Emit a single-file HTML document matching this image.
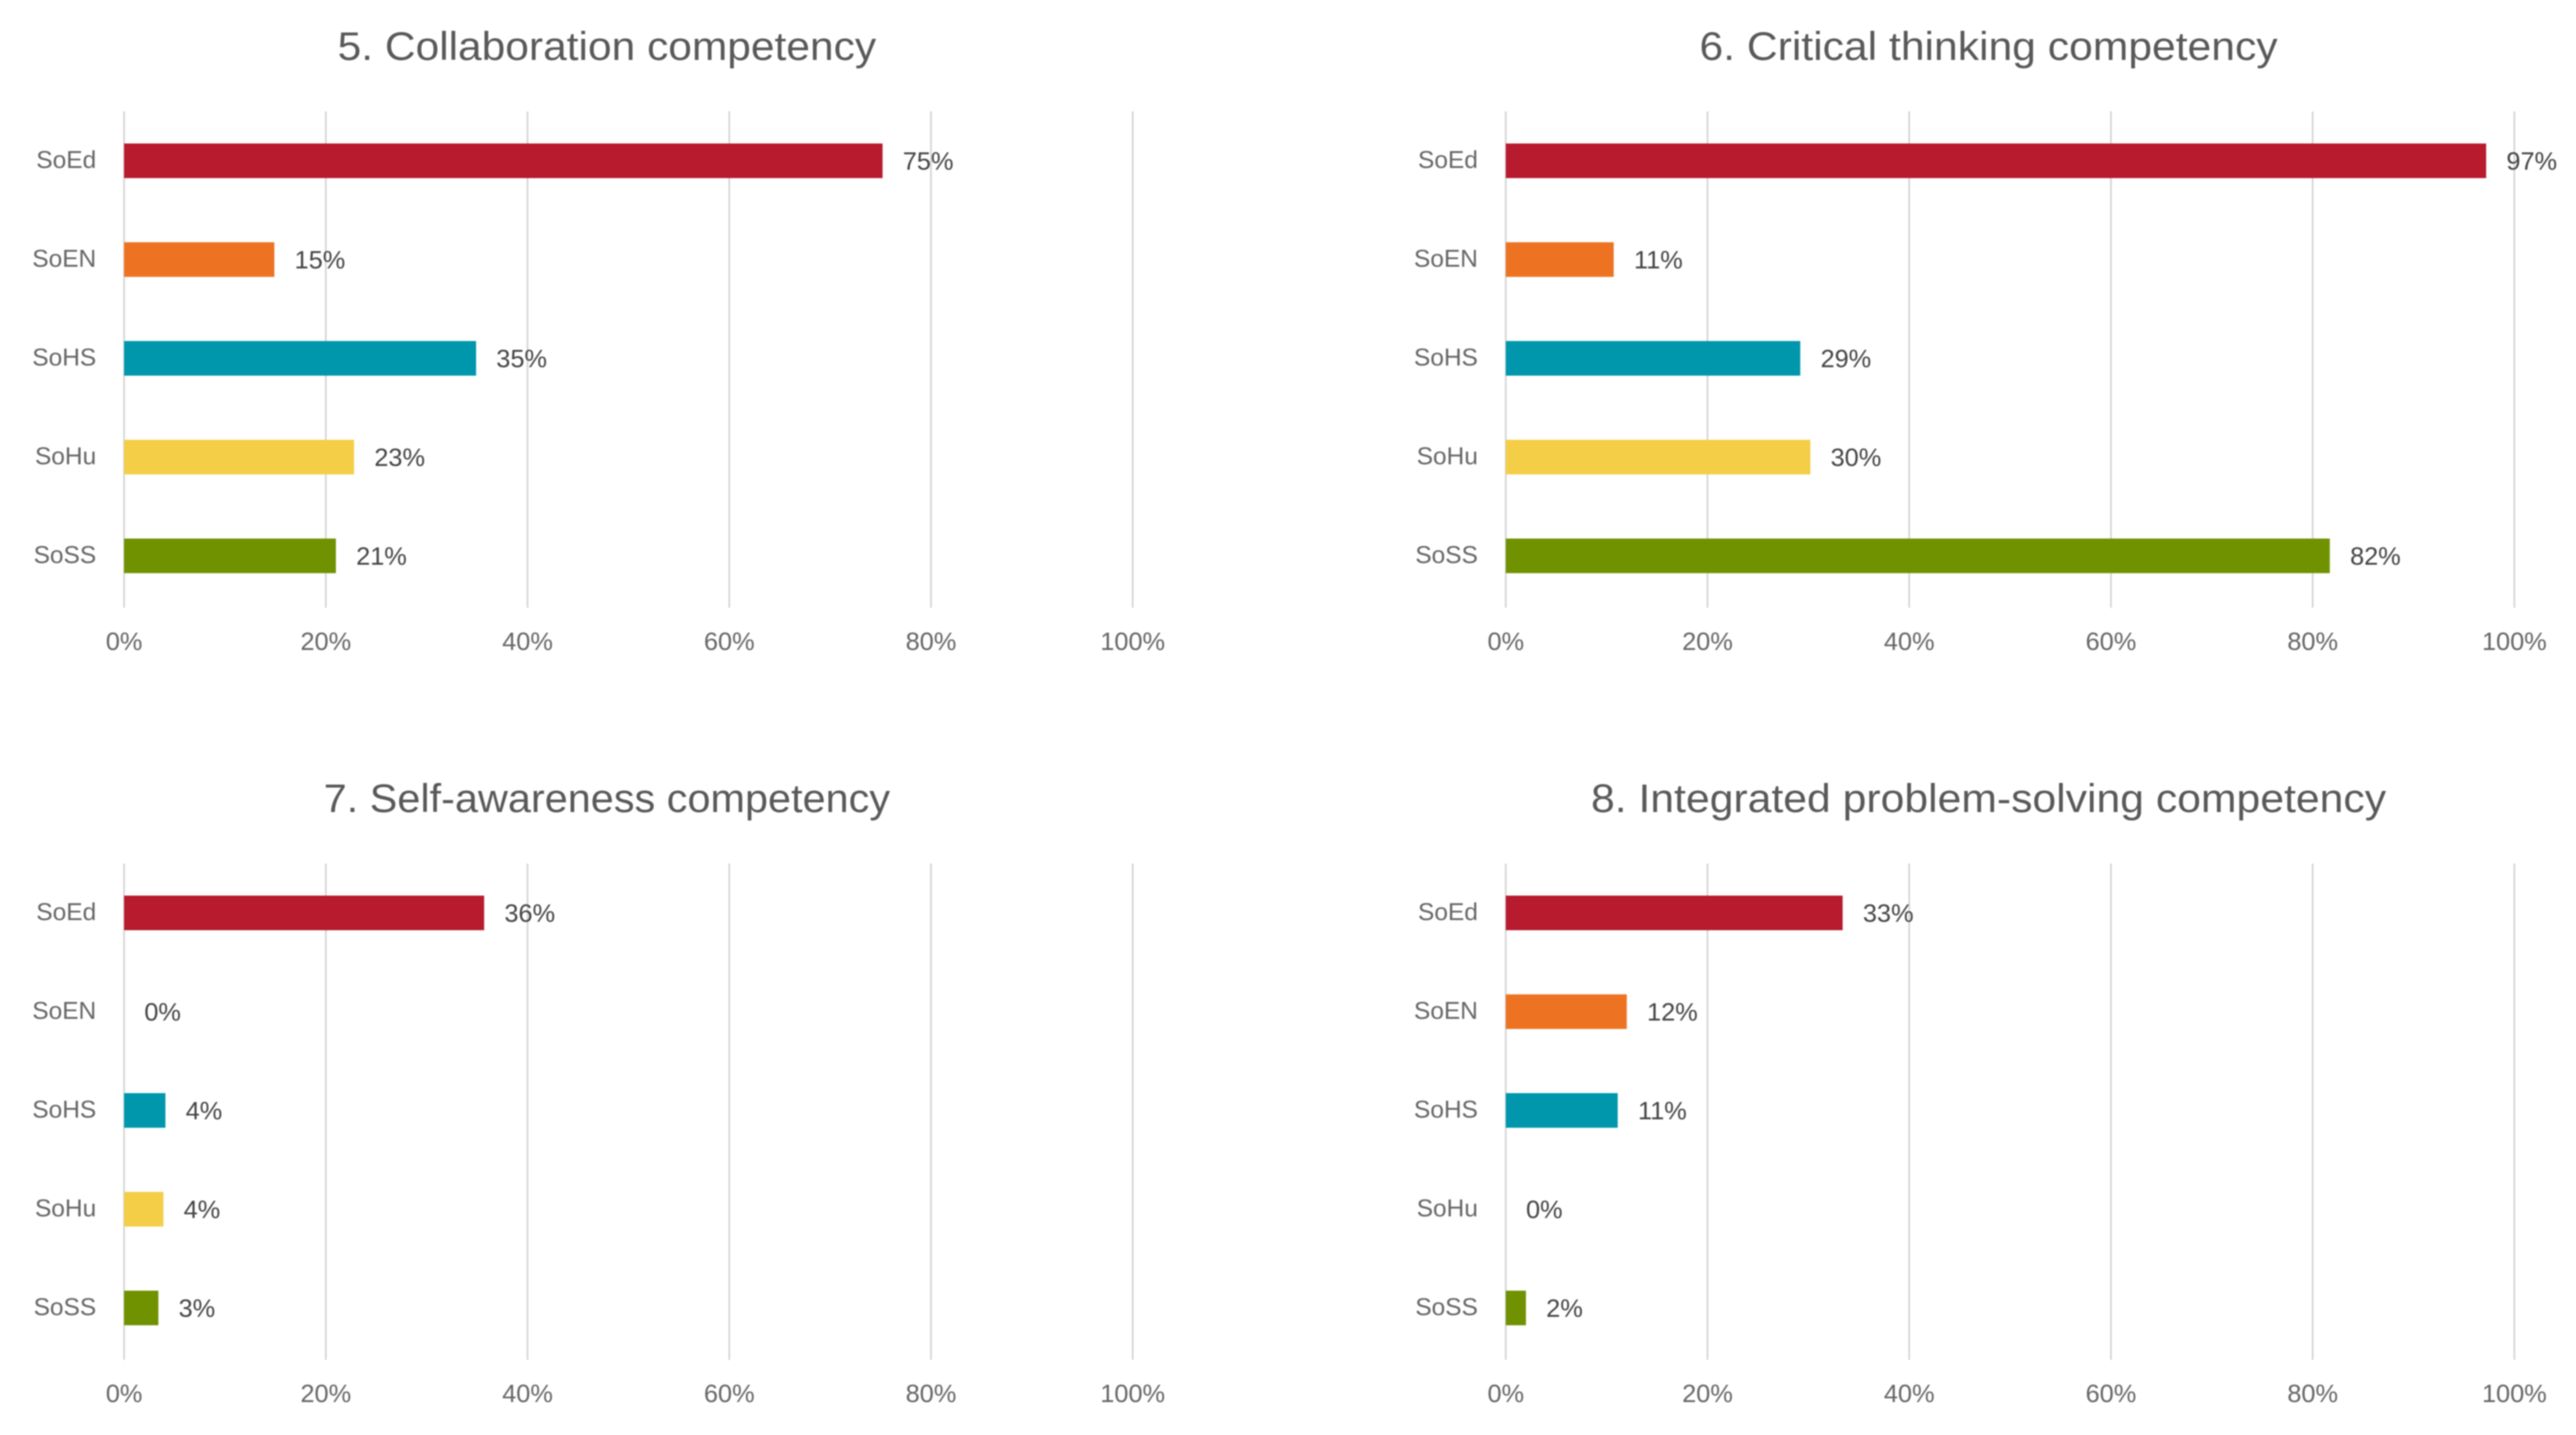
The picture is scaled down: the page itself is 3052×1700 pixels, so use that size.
<!DOCTYPE html>
<html lang="en">
<head>
<meta charset="utf-8">
<title>Competency charts</title>
<style>
html,body{margin:0;padding:0;background:#fff;}
svg{display:block;font-family:"Liberation Sans",sans-serif;filter:blur(0.7px);}
.grid{stroke:#d4d4d4;stroke-width:2;}
.title{font-size:47px;fill:#595959;text-anchor:middle;}
.tick{font-size:30px;fill:#666;text-anchor:middle;}
.cat{font-size:29px;fill:#666;text-anchor:end;}
.val{font-size:30px;fill:#444;}
.c0{fill:#b81a2e;}
.c1{fill:#ed7322;}
.c2{fill:#0097ad;}
.c3{fill:#f4ce47;}
.c4{fill:#709200;}
</style>
</head>
<body>
<svg id="chart" xmlns="http://www.w3.org/2000/svg" width="3052" height="1700" viewBox="0 0 3052 1700">
<rect width="3052" height="1700" fill="#fff"/>
</svg>
<script>
const categories = ["SoEd", "SoEN", "SoHS", "SoHu", "SoSS"];
const tickValues = [0, 20, 40, 60, 80, 100];
const tickLabels = ["0%", "20%", "40%", "60%", "80%", "100%"];
const titles = ["5. Collaboration competency", "6. Critical thinking competency", "7. Self-awareness competency", "8. Integrated problem-solving competency"];
const collaborationValues = [75.2, 14.9, 34.9, 22.8, 21];
const criticalThinkingValues = [97.2, 10.7, 29.2, 30.2, 81.7];
const selfAwarenessValues = [35.7, 0, 4.1, 3.9, 3.4];
const problemSolvingValues = [33.4, 12, 11.1, 0, 2];
const panelSeries = [collaborationValues, criticalThinkingValues, selfAwarenessValues, problemSolvingValues];

const NS = "http://www.w3.org/2000/svg";
const svg = document.getElementById("chart");
const titleWidths = [638, 685, 671, 942];

function xScale(panel, v) {
  const left = 147 + (panel % 2) * 1637;
  return left + v * 11.95;
}
function yScale(panel, i) {
  const top = 190 + Math.floor(panel / 2) * 891;
  return top + i * 117;
}
function make(tag, attrs, text) {
  const el = document.createElementNS(NS, tag);
  for (const k in attrs) el.setAttribute(k, attrs[k]);
  if (text !== undefined) el.textContent = text;
  return el;
}

panelSeries.forEach(function (values, p) {
  const rowOffset = Math.floor(p / 2) * 891;
  const g = make("g", {});
  
  
  svg.appendChild(g);

  const title = make("text", {
    class: "title",
    x: xScale(p, 0) + 572,
    y: 57 + rowOffset + 14,
    textLength: titleWidths[p],
    lengthAdjust: "spacingAndGlyphs"
  }, titles[p]);
  
  
  g.appendChild(title);

  tickValues.forEach(function (t, ti) {
    const x = xScale(p, t);
    const line = make("line", { class: "grid", x1: x, x2: x, y1: 132 + rowOffset, y2: 720 + rowOffset });
    
    
    g.appendChild(line);

    const label = make("text", { class: "tick", x: x, y: 770 + rowOffset }, tickLabels[ti]);
    
    
    g.appendChild(label);
  });

  categories.forEach(function (cat, i) {
    const cy = yScale(p, i);
    const v = values[i];
    const x0 = xScale(p, 0);
    const x1 = xScale(p, v);

    const catLabel = make("text", { class: "cat", x: x0 - 33, y: cy + 9 }, cat);
    
    
    g.appendChild(catLabel);

    const bar = make("rect", { class: "c" + i, x: x0, y: cy - 20, width: x1 - x0, height: 41 });
    
    
    g.appendChild(bar);

    const valLabel = make("text", { class: "val", x: x1 + 24, y: cy + 11 }, Math.round(v) + "%");
    
    
    g.appendChild(valLabel);
  });
});
</script>
</body>
</html>
